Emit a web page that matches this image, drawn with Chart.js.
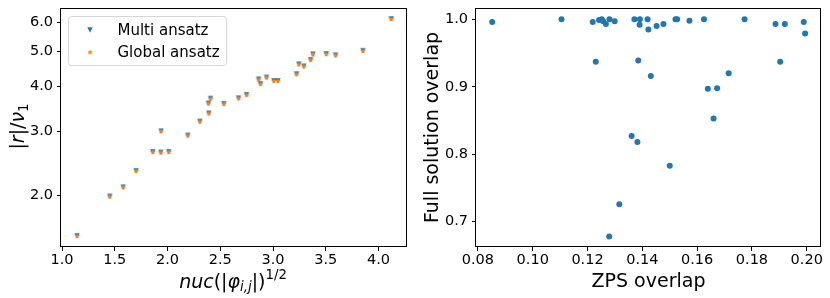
<!DOCTYPE html>
<html><head><meta charset="utf-8">
<script src="https://cdn.jsdelivr.net/npm/chart.js@4/dist/chart.umd.min.js"></script>
<style>
html,body{margin:0;padding:0;background:#fff;}
#wrap{position:relative;width:830px;height:298px;}
#c1{position:absolute;left:0;top:0;}
#c2{position:absolute;left:415px;top:0;}
</style></head><body>
<div id="wrap"><canvas id="c1" width="415" height="298"></canvas><canvas id="c2" width="415" height="298"></canvas></div>
<script>
// ---------- data: left panel ----------
const nucX    = [1.142,1.452,1.579,1.702,1.860,1.936,1.939,2.011,2.192,2.306,2.388,2.391,2.407,2.533,2.673,2.749,2.863,2.881,2.938,3.008,3.046,3.223,3.245,3.292,3.356,3.378,3.505,3.593,3.852,4.121];
const multiY  = [1.55,1.99,2.11,2.34,2.64,2.63,3.01,2.64,2.93,3.20,3.59,3.37,3.70,3.58,3.71,3.79,4.18,4.06,4.23,4.14,4.14,4.32,4.60,4.54,4.73,4.90,4.91,4.87,5.01,6.13];
const globalY = [1.55,1.99,2.11,2.34,2.64,2.63,3.01,2.64,2.93,3.20,3.59,3.37,3.70,3.58,3.71,3.79,4.18,4.06,4.23,4.14,4.14,4.32,4.60,4.54,4.73,4.90,4.91,4.87,5.01,6.13];
const seriesNames = ['Multi ansatz','Global ansatz'];
const leftXTicks = [1.0,1.5,2.0,2.5,3.0,3.5,4.0];
const leftYTicks = [2,3,4,5,6];
// ---------- data: right panel ----------
const zpsX  = [0.0852,0.1105,0.1219,0.1230,0.1242,0.1252,0.1257,0.1267,0.1280,0.1279,0.1299,0.1316,0.1361,0.1371,0.1382,0.1385,0.1390,0.1391,0.1419,0.1422,0.1431,0.1452,0.1477,0.1500,0.1521,0.1527,0.1572,0.1625,0.1639,0.1660,0.1673,0.1715,0.1773,0.1886,0.1903,0.1920,0.1989,0.1994];
const fullY = [0.996,1.000,0.996,0.937,0.999,1.000,0.997,0.993,1.000,0.678,0.997,0.726,0.827,1.000,0.818,0.939,0.992,1.000,1.000,0.985,0.916,0.990,0.993,0.783,1.000,1.000,0.998,1.000,0.897,0.853,0.898,0.920,1.000,0.993,0.937,0.993,0.996,0.979];
const rightXTicks = [0.08,0.10,0.12,0.14,0.16,0.18,0.20];
const rightYTicks = [0.7,0.8,0.9,1.0];
const rightXTitle = 'ZPS overlap';
const rightYTitle = 'Full solution overlap';

const FONT = 'DejaVu Sans';
Chart.defaults.font.family = FONT;
Chart.defaults.color = '#000';
const BLUE = '#1f77b4', ORANGE = '#ff7f0e';

function triPath(ctx, cx, cy, h) {
  ctx.beginPath();
  ctx.moveTo(cx - h, cy - h); ctx.lineTo(cx + h, cy - h); ctx.lineTo(cx, cy + h); ctx.closePath();
}
function starPath(ctx, cx, cy, ro) {
  const ri = ro * 0.381966;
  ctx.beginPath();
  for (let i = 0; i < 10; i++) {
    const r = i % 2 ? ri : ro;
    const a = -Math.PI / 2 + i * Math.PI / 5;
    const x = cx + r * Math.cos(a), y = cy + r * Math.sin(a);
    i ? ctx.lineTo(x, y) : ctx.moveTo(x, y);
  }
  ctx.closePath();
}
function makeMarker(kind) {
  const c = document.createElement('canvas'); c.width = 10; c.height = 10;
  const g = c.getContext('2d');
  if (kind === 'tri') { triPath(g, 5, 5, 2.7); g.fillStyle = BLUE; g.fill(); }
  else { starPath(g, 5, 5, 3.1); g.fillStyle = ORANGE; g.fill(); }
  return c;
}
const triImg = makeMarker('tri'), starImg = makeMarker('star');

function axis(type, pos, min, max, ticks, dec, extra) {
  return Object.assign({
    type, position: pos, min, max,
    afterBuildTicks: s => { s.ticks = ticks.map(v => ({ value: v })); },
    afterFit: s => {
      if (pos === 'left') s.width = 61; else s.height = 51;
      s.paddingLeft = 0; s.paddingRight = 0; s.paddingTop = 0; s.paddingBottom = 0;
    },
    grid: { display: true, drawOnChartArea: false, drawTicks: true, tickLength: 4, color: '#000', lineWidth: 1 },
    border: { display: false },
    ticks: { autoSkip: false, maxRotation: 0, minRotation: 0, padding: pos === 'left' ? 4 : 1,
      font: { size: 14.5 }, color: '#000', callback: v => Number(v).toFixed(dec) }
  }, extra || {});
}

const framePlugin = { id: 'frame', afterDraw(chart) {
  const { ctx, chartArea: a } = chart;
  ctx.save(); ctx.strokeStyle = '#000'; ctx.lineWidth = 1;
  ctx.strokeRect(Math.round(a.left) - 0.5, Math.round(a.top) + 0.5, Math.round(a.right - a.left), Math.round(a.bottom - a.top) - 1);
  ctx.restore();
}};

function drawRich(ctx, segs, cx, by, rot) {
  ctx.save(); ctx.translate(cx, by); if (rot) ctx.rotate(rot);
  const fs = s => (s.it ? 'italic ' : '') + (s.size || 19) + 'px "' + FONT + '"';
  let total = 0;
  segs.forEach(s => { ctx.font = fs(s); s.w = ctx.measureText(s.t).width; total += s.w; });
  let x = -total / 2;
  ctx.fillStyle = '#000'; ctx.textAlign = 'left'; ctx.textBaseline = 'alphabetic';
  segs.forEach(s => { ctx.font = fs(s); ctx.fillText(s.t, x, s.dy || 0); x += s.w; });
  ctx.restore();
}
const leftXTitle = [
  { t: 'nuc', it: true }, { t: '(' }, { t: '|' }, { t: 'φ', it: true },
  { t: 'i,j', it: true, size: 13.3, dy: 3 }, { t: '|' }, { t: ')' }, { t: '1/2', size: 13.3, dy: -9 }
];
const leftYTitle = [
  { t: '|' }, { t: 'r', it: true }, { t: '|' }, { t: '/' }, { t: 'ν', it: true }, { t: '1', size: 13.3, dy: 3.5 }
];
const leftDecor = { id: 'leftDecor', afterDraw(chart) {
  const ctx = chart.ctx;
  const a = chart.chartArea;
  drawRich(ctx, leftXTitle, (a.left + a.right) / 2 - 1, 288, 0);
  drawRich(ctx, leftYTitle, 24, 126.5, -Math.PI / 2);
  // legend
  ctx.save();
  const x0 = 68.5, y0 = 16.5, w = 158, h = 49, r = 3;
  ctx.beginPath();
  ctx.moveTo(x0 + r, y0); ctx.lineTo(x0 + w - r, y0); ctx.arcTo(x0 + w, y0, x0 + w, y0 + r, r);
  ctx.lineTo(x0 + w, y0 + h - r); ctx.arcTo(x0 + w, y0 + h, x0 + w - r, y0 + h, r);
  ctx.lineTo(x0 + r, y0 + h); ctx.arcTo(x0, y0 + h, x0, y0 + h - r, r);
  ctx.lineTo(x0, y0 + r); ctx.arcTo(x0, y0, x0 + r, y0, r); ctx.closePath();
  ctx.fillStyle = 'rgba(255,255,255,0.8)'; ctx.fill();
  ctx.strokeStyle = '#d6d6d6'; ctx.lineWidth = 1; ctx.stroke();
  ctx.drawImage(triImg, 90 - 5, 30 - 5);
  ctx.drawImage(starImg, 90 - 5, 52.3 - 5);
  ctx.fillStyle = '#000'; ctx.font = '15px "' + FONT + '"'; ctx.textBaseline = 'alphabetic';
  ctx.fillText(chart.data.datasets[0].label, 117.5, 35);
  ctx.fillText(chart.data.datasets[1].label, 117.5, 56.7);
  ctx.restore();
}};

new Chart(document.getElementById('c1'), {
  type: 'scatter',
  data: { datasets: [
    { label: seriesNames[0], data: nucX.map((x, i) => ({ x, y: multiY[i] })), pointStyle: triImg, order: 1 },
    { label: seriesNames[1], data: nucX.map((x, i) => ({ x, y: globalY[i] })), pointStyle: starImg, order: 0 }
  ]},
  options: {
    responsive: false, animation: false, devicePixelRatio: 1,
    layout: { padding: { left: 0, top: 8, right: 8, bottom: 0 } },
    plugins: { legend: { display: false }, tooltip: { enabled: false } },
    scales: {
      x: axis('linear', 'bottom', 0.99, 4.27, leftXTicks, 1),
      y: axis('logarithmic', 'left', 1.445, 6.57, leftYTicks, 1)
    }
  },
  plugins: [framePlugin, leftDecor]
});

new Chart(document.getElementById('c2'), {
  type: 'scatter',
  data: { datasets: [
    { label: 'overlap', data: zpsX.map((x, i) => ({ x, y: fullY[i] })), pointStyle: 'circle', pointRadius: 3, backgroundColor: BLUE, borderColor: BLUE, borderWidth: 0 }
  ]},
  options: {
    responsive: false, animation: false, devicePixelRatio: 1,
    layout: { padding: { left: 0, top: 8, right: 9, bottom: 0 } },
    plugins: { legend: { display: false }, tooltip: { enabled: false } },
    scales: {
      x: axis('linear', 'bottom', 0.0793, 0.2052, rightXTicks, 2, {
        title: { display: true, text: rightXTitle, font: { size: 19 }, color: '#000', padding: { top: 0, bottom: 5 } } }),
      y: axis('linear', 'left', 0.6625, 1.0168, rightYTicks, 1, {
        title: { display: true, text: rightYTitle, font: { size: 19 }, color: '#000', padding: { top: 7, bottom: 0 } } })
    }
  },
  plugins: [framePlugin]
});
</script>
</body></html>
